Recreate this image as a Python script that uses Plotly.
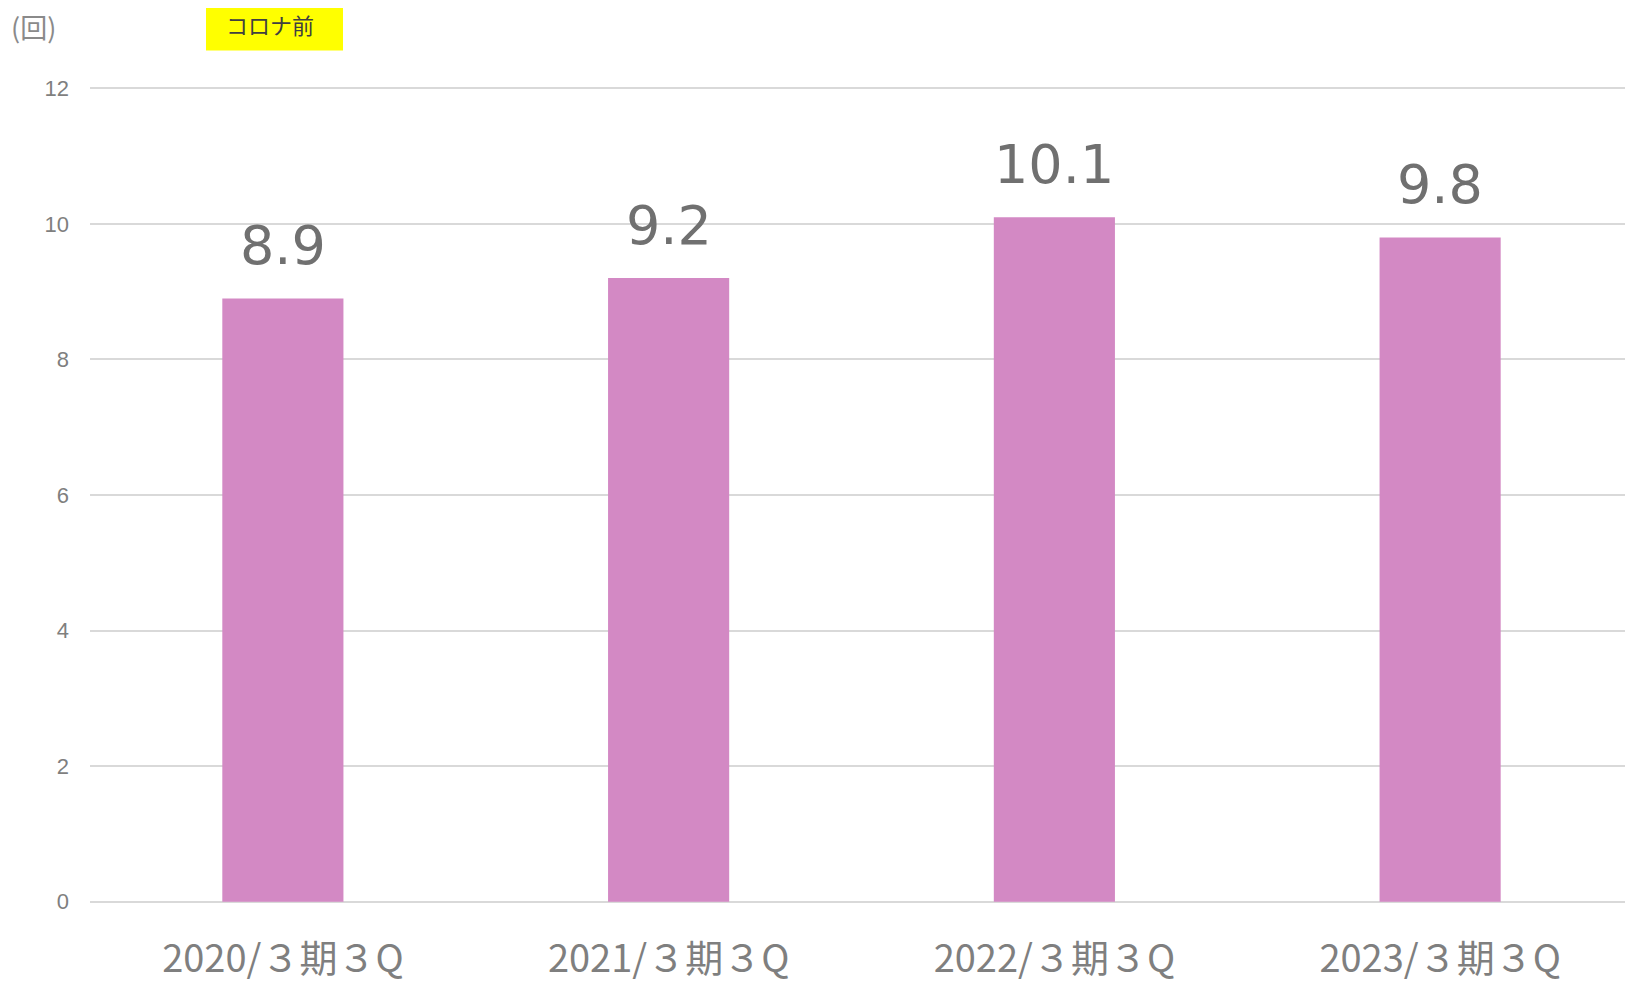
import plotly.graph_objs as go

categories = ["2020/３期３Q", "2021/３期３Q", "2022/３期３Q", "2023/３期３Q"]
values = [8.9, 9.2, 10.1, 9.8]
y_ticks = [0, 2, 4, 6, 8, 10, 12]

bar_color = "#D389C4"
jp_font = "Noto Sans CJK JP"

# page offset from default body margin
OFF = 8
W, H = 1633 - OFF, 984 - OFF
y_lo, y_hi = -0.02, 12.02
unit = (902 - 88) / 12.0
top = 88 - OFF - (y_hi - 12) * unit
plot_h = (y_hi - y_lo) * unit
bottom = H - top - plot_h
left = 90 - OFF
plot_w = W - left


def px_x(p):
    # page pixel -> paper x
    return (p - OFF - left) / plot_w


def px_y(p):
    # page pixel -> paper y
    return (H - bottom - (p - OFF)) / plot_h


trace = go.Bar(x=categories, y=values, marker=dict(color=bar_color, line=dict(width=0)),
               hoverinfo="x+y")

annotations = []
for c, v in zip(categories, values):
    annotations.append(dict(x=c, y=v, xref="x", yref="y", text=f"{v:.1f}", showarrow=False,
                            yanchor="bottom", yshift=19,
                            font=dict(family="DejaVu Sans", size=54, color="#707070")))

# unit label and "before corona" tag
annotations.append(dict(x=px_x(9), y=px_y(26), xref="paper", yref="paper", text="(回)",
                        showarrow=False, xanchor="left", yanchor="middle",
                        font=dict(family=jp_font, size=27, color="#8a8a8a")))
annotations.append(dict(x=px_x(270), y=px_y(24), xref="paper", yref="paper", text="コロナ前",
                        showarrow=False, xanchor="center", yanchor="middle",
                        font=dict(family=jp_font, size=22, color="#404040")))

shapes = [dict(type="rect", xref="paper", yref="paper", x0=px_x(206), x1=px_x(343),
               y0=px_y(50), y1=px_y(-5), fillcolor="#FFFF00", line=dict(width=0), layer="below")]

layout = go.Layout(
    width=W, height=H,
    margin=dict(l=left, r=0, t=top, b=bottom, pad=0),
    plot_bgcolor="white", paper_bgcolor="white",
    bargap=0.686,
    showlegend=False,
    xaxis=dict(showgrid=False, zeroline=False, showline=False, ticks="", automargin=False,
               tickfont=dict(family=jp_font, size=38, color="#7f7f7f"),
               ticklabelstandoff=30),
    yaxis=dict(range=[y_lo, y_hi], tickvals=y_ticks, showgrid=True, gridcolor="#d9d9d9", gridwidth=2,
               zeroline=False, showline=False, ticks="", automargin=False,
               tickfont=dict(family="Liberation Sans", size=22, color="#7f7f7f"),
               ticklabelstandoff=20),
    annotations=annotations,
    shapes=shapes,
)

fig = go.Figure([trace], layout)
fig.write_html("out.html")
